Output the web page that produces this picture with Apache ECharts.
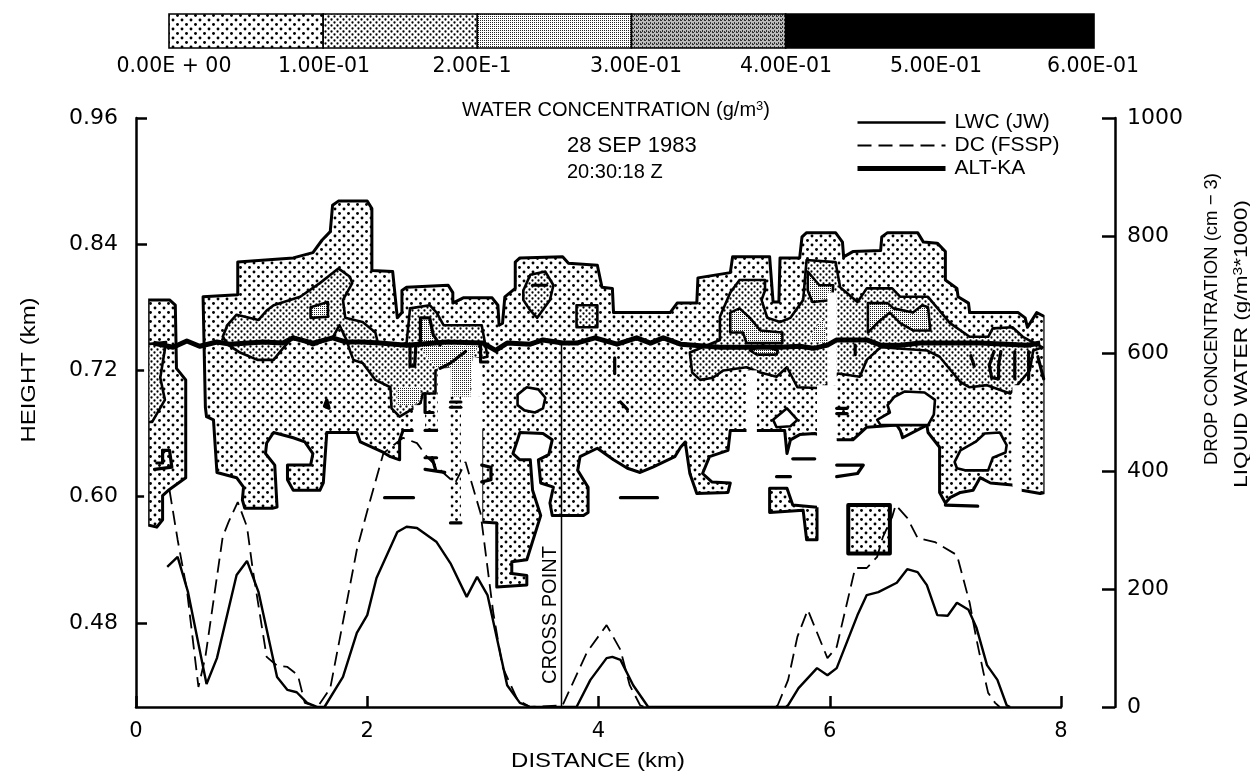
<!DOCTYPE html>
<html><head><meta charset="utf-8">
<style>html,body{margin:0;padding:0;background:#fff}#c{width:1250px;height:773px}</style>
<script src="https://cdn.jsdelivr.net/npm/echarts@6/dist/echarts.min.js"></script>
</head><body><div id="c"></div>
<script>
// ---------- values ----------
var lwcSeries=[[.27,238],[.36,255],[.45,195],[.61,39],[.70,83],[.87,224],[.96,248],[1.06,195],[1.22,51],[1.31,29],[1.39,25],[1.48,7],[1.57,0],[1.63,0],[1.79,51],[1.91,126],[2.00,156],[2.08,219],[2.26,297],[2.34,306],[2.43,304],[2.60,280],[2.72,244],[2.86,187],[2.95,221],[3.04,190],[3.21,37],[3.32,7],[3.41,0],[3.81,0],[3.93,46],[4.07,83],[4.12,85],[4.19,80],[4.30,37],[4.43,0],[5.62,0],[5.64,3],[5.73,32],[5.89,66],[5.98,54],[6.06,66],[6.24,156],[6.32,190],[6.42,195],[6.58,211],[6.67,234],[6.76,229],[6.84,207],[6.93,156],[7.02,155],[7.10,177],[7.20,165],[7.27,134],[7.36,71],[7.45,46],[7.53,3],[7.56,0]];
var dcSeries=[[.29,368],[.36,284],[.44,199],[.54,34],[.60,85],[.75,289],[.80,314],[.88,348],[.96,306],[1.01,233],[1.13,85],[1.22,70],[1.31,68],[1.40,54],[1.46,7],[1.57,0],[1.68,32],[1.91,267],[2.01,340],[2.14,431],[2.31,457],[2.43,448],[2.52,424],[2.65,399],[2.76,380],[2.85,416],[2.98,329],[3.09,160],[3.17,68],[3.30,12],[3.41,0],[3.69,3],[3.90,93],[4.07,139],[4.19,97],[4.27,37],[4.36,3],[4.40,0],[5.53,0],[5.55,3],[5.64,46],[5.72,119],[5.81,165],[5.87,136],[5.98,83],[6.06,102],[6.22,236],[6.32,236],[6.41,255],[6.46,289],[6.54,323],[6.57,343],[6.67,321],[6.76,287],[6.91,280],[7.10,258],[7.21,177],[7.27,114],[7.33,58],[7.37,24],[7.43,7],[7.47,0]];
var altSeries=[[.15,.746],[.32,.742],[.44,.748],[.55,.743],[.70,.747],[.81,.745],[1.10,.747],[1.27,.746],[1.36,.751],[1.53,.746],[1.70,.751],[1.82,.747],[1.96,.747],[2.11,.746],[2.34,.744],[2.69,.747],[3.00,.746],[3.11,.739],[3.21,.746],[3.41,.745],[3.52,.749],[3.69,.746],[3.81,.746],[3.97,.751],[4.16,.745],[4.33,.751],[4.45,.746],[4.56,.751],[4.71,.745],[5.05,.742],[5.28,.742],[5.57,.742],[5.74,.743],[5.86,.741],[5.98,.744],[6.06,.749],[6.32,.749],[6.44,.744],[6.61,.744],[6.78,.746],[7.30,.746],[7.71,.744],[7.82,.746]];
var crossPoint=[[3.68,.40],[3.68,.745]];

var heightTicks=[.48,.60,.72,.84,.96];
var scaleEdges=[0,.1,.2,.3,.4,.6];
var scaleLabels=['0.00E + 00','1.00E-01','2.00E-1','3.00E-01','4.00E-01','5.00E-01','6.00E-01'];
var legendNames=['LWC (JW)','DC (FSSP)','ALT-KA'];

// water concentration contours: [distance km, height km]
var columnWest=[[.105,.787],[.29,.787],[.34,.782],[.35,.722],[.43,.711],[.43,.618],[.28,.606],[.23,.601],[.23,.578],[.18,.571],[.105,.573]];
var mainBody=[[.58,.790],[.88,.792],[.88,.823],[1.36,.827],[1.53,.832],[1.61,.844],[1.68,.852],[1.70,.877],[1.75,.881],[2.00,.881],[2.04,.874],[2.04,.815],[2.22,.814],[2.26,.770],[2.30,.775],[2.30,.796],[2.34,.799],[2.70,.801],[2.74,.794],[2.74,.784],[2.83,.789],[3.08,.789],[3.13,.782],[3.14,.763],[3.17,.765],[3.19,.790],[3.28,.798],[3.28,.823],[3.32,.827],[3.69,.828],[3.74,.822],[3.99,.820],[4.03,.799],[4.12,.798],[4.13,.775],[4.62,.775],[4.68,.784],[4.85,.784],[4.86,.808],[5.14,.813],[5.16,.828],[5.48,.828],[5.51,.785],[5.56,.785],[5.57,.827],[5.74,.827],[5.76,.847],[5.80,.851],[6.05,.851],[6.11,.842],[6.12,.828],[6.20,.833],[6.44,.834],[6.45,.847],[6.50,.851],[6.76,.851],[6.81,.842],[6.93,.841],[7.00,.833],[7.00,.806],[7.10,.798],[7.11,.790],[7.20,.784],[7.21,.775],[7.63,.775],[7.69,.770],[7.71,.761],[7.79,.775],[7.86,.771],[7.86,.604],[7.82,.603],[7.66,.606],[7.58,.611],[7.39,.613],[7.30,.618],[7.24,.606],[7.13,.604],[7.04,.599],[7.00,.594],[6.95,.604],[6.95,.647],[6.85,.661],[6.84,.668],[6.63,.656],[6.61,.663],[6.58,.668],[6.32,.666],[6.20,.654],[6.07,.654],[5.87,.660],[5.74,.659],[5.66,.654],[5.63,.641],[5.61,.663],[5.37,.663],[5.28,.663],[5.14,.663],[5.12,.644],[4.96,.638],[4.90,.622],[4.98,.614],[5.14,.613],[5.12,.604],[4.85,.603],[4.79,.622],[4.75,.652],[4.71,.647],[4.66,.638],[4.47,.628],[4.36,.623],[4.25,.627],[4.13,.635],[3.99,.646],[3.84,.638],[3.82,.625],[3.91,.609],[3.91,.585],[3.87,.582],[3.60,.582],[3.58,.594],[3.61,.609],[3.50,.613],[3.48,.635],[3.57,.640],[3.60,.654],[3.52,.660],[3.32,.661],[3.30,.654],[3.26,.641],[3.32,.635],[3.41,.635],[3.43,.606],[3.50,.582],[3.38,.540],[3.25,.538],[3.25,.527],[3.38,.525],[3.38,.516],[3.12,.514],[3.12,.575],[2.99,.576],[2.99,.663],[2.31,.663],[2.28,.654],[2.28,.635],[2.20,.638],[2.14,.642],[1.94,.652],[1.91,.661],[1.65,.661],[1.62,.613],[1.59,.606],[1.36,.606],[1.31,.616],[1.31,.630],[1.51,.630],[1.53,.641],[1.46,.652],[1.36,.656],[1.19,.661],[1.13,.651],[1.12,.641],[1.20,.630],[1.22,.590],[1.18,.589],[.94,.589],[.92,.597],[.93,.609],[.87,.618],[.70,.623],[.67,.673],[.61,.676],[.60,.685]];
var fragmentEast=[[5.48,.608],[5.63,.608],[5.68,.592],[5.89,.590],[5.89,.559],[5.80,.559],[5.77,.587],[5.48,.585]];
var boxEast=[[6.16,.592],[6.52,.592],[6.52,.546],[6.16,.546]];

var level2West=[[.105,.745],[.26,.747],[.21,.713],[.25,.692],[.14,.671],[.105,.671]];
var level2Left=[[.75,.752],[.79,.763],[.87,.773],[1.06,.768],[1.13,.777],[1.19,.782],[1.42,.790],[1.59,.803],[1.75,.817],[1.85,.809],[1.87,.803],[1.79,.787],[1.81,.770],[1.96,.766],[2.07,.756],[2.09,.747],[2.26,.744],[2.34,.746],[2.37,.779],[2.54,.782],[2.60,.775],[2.66,.763],[2.99,.763],[3.04,.733],[2.89,.730],[2.59,.720],[2.59,.698],[2.48,.698],[2.46,.689],[2.40,.684],[2.28,.676],[2.21,.684],[2.20,.704],[2.07,.711],[1.96,.727],[1.88,.730],[1.85,.739],[1.82,.749],[1.76,.763],[1.70,.751],[1.53,.744],[1.36,.752],[1.27,.741],[1.19,.730],[1.05,.730],[.90,.737],[.80,.744]];
var level2Drop=[[3.35,.796],[3.41,.811],[3.54,.814],[3.61,.801],[3.58,.787],[3.47,.770],[3.41,.777],[3.35,.787]];
var level2Square=[[3.81,.782],[3.99,.782],[3.99,.761],[3.81,.761]];
var level2Right=[[4.79,.737],[5.05,.749],[5.05,.771],[5.14,.794],[5.22,.806],[5.44,.806],[5.44,.796],[5.41,.787],[5.46,.770],[5.57,.766],[5.66,.770],[5.77,.787],[5.79,.813],[5.80,.825],[6.05,.823],[6.09,.799],[6.24,.785],[6.32,.798],[6.54,.798],[6.61,.790],[6.85,.790],[7.04,.765],[7.21,.752],[7.37,.752],[7.41,.760],[7.58,.761],[7.67,.752],[7.84,.742],[7.76,.739],[7.73,.720],[7.56,.698],[7.36,.706],[7.21,.704],[7.13,.709],[6.95,.733],[6.84,.739],[6.44,.742],[6.32,.730],[6.26,.714],[6.07,.717],[5.94,.703],[5.72,.704],[5.63,.723],[5.54,.714],[5.40,.718],[5.28,.723],[5.08,.720],[4.99,.713],[4.88,.711],[4.81,.718]];

var level3A=[[2.46,.770],[2.54,.770],[2.57,.754],[2.63,.744],[2.89,.744],[2.96,.744],[2.91,.732],[2.89,.695],[2.72,.695],[2.72,.723],[2.59,.723],[2.50,.735],[2.46,.744]];
var level3B=[[2.26,.704],[2.46,.704],[2.46,.692],[2.40,.687],[2.26,.687]];
var level3Box=[[1.51,.780],[1.66,.785],[1.66,.771],[1.51,.770]];
var level3C1=[[6.33,.784],[6.50,.784],[6.55,.779],[6.72,.775],[6.80,.782],[6.85,.780],[6.87,.758],[6.72,.758],[6.61,.765],[6.52,.775],[6.41,.765],[6.33,.756]];
var level3C2=[[5.81,.814],[5.91,.801],[6.03,.801],[6.02,.787],[5.85,.785],[5.81,.796]];
var level3C3=[[5.83,.752],[5.94,.770],[5.98,.746],[5.85,.747]];
var level3C4=[[5.14,.775],[5.22,.779],[5.31,.770],[5.40,.758],[5.59,.756],[5.59,.746],[5.28,.746],[5.25,.756],[5.14,.756]];
var level3C5=[[5.31,.739],[5.42,.744],[5.55,.739],[5.54,.735],[5.37,.735]];

var holeA=[[3.30,.697],[3.38,.704],[3.48,.702],[3.54,.694],[3.52,.684],[3.45,.680],[3.36,.682],[3.30,.687]];
var holeB=[[5.51,.673],[5.63,.684],[5.72,.673],[5.66,.667],[5.54,.666]];
var holeC=[[6.41,.673],[6.52,.680],[6.50,.687],[6.56,.695],[6.65,.700],[6.82,.699],[6.91,.692],[6.90,.678],[6.85,.668],[6.44,.668]];
var holeD=[[7.08,.633],[7.13,.644],[7.26,.652],[7.34,.660],[7.47,.661],[7.53,.649],[7.52,.642],[7.41,.637],[7.37,.625],[7.17,.625],[7.10,.627]];

// data gaps: [x0, x1, h0, h1]
var dataGaps=[[.07,.105,.80,.56],[2.40,2.50,.687,.655],[2.61,2.72,.722,.55],[2.81,2.995,.695,.568],[2.91,2.995,.732,.695],[5.28,5.37,.720,.655],[5.98,6.06,.794,.706],[5.89,6.06,.706,.59],[7.58,7.66,.706,.595],[7.858,7.90,.78,.59]];
var dataColumns=[[2.72,2.81,.695,.575]];

var contourMarks=[
 [[.23,.644],[.29,.644],[.31,.628],[.16,.626]],[[.23,.644],[.23,.632],[.18,.632]],
 [[2.46,.744],[2.46,.770],[2.54,.770],[2.57,.754],[2.63,.744]],[[2.63,.722],[2.72,.727],[2.85,.738]],
 [[2.15,.599],[2.40,.599]],[[4.19,.599],[4.51,.599]],[[2.72,.575],[2.81,.575]],[[2.72,.690],[2.81,.690]],[[2.72,.685],[2.81,.685]],
 [[2.50,.626],[2.67,.623]],[[2.56,.637],[2.59,.626]],[[2.50,.637],[2.60,.637]],[[2.50,.663],[2.60,.663]],
 [[4.14,.732],[4.14,.717]],[[4.19,.690],[4.25,.683]],[[3.43,.801],[3.55,.801]],
 [[5.54,.619],[5.66,.619]],[[5.68,.636],[5.87,.636]],[[6.06,.684],[6.15,.684]],[[6.06,.679],[6.15,.679]],
 [[6.06,.630],[6.29,.630],[6.24,.622],[6.06,.619]],[[7.00,.592],[7.28,.591]],
 [[7.22,.734],[7.25,.724]],[[7.60,.738],[7.60,.712]],[[7.42,.738],[7.38,.725],[7.40,.713],[7.46,.712],[7.46,.725],[7.48,.738]],
 [[7.72,.738],[7.72,.712]],[[7.80,.733],[7.85,.712]],[[6.22,.744],[6.22,.735]],
 [[2.37,.743],[2.37,.724],[2.41,.724],[2.42,.743]],[[2.98,.744],[2.98,.728],[3.04,.728]],
 [[2.99,.630],[3.07,.628],[3.07,.616],[2.99,.614]],[[1.63,.686],[1.65,.692],[1.67,.684],[1.63,.686]],
 [[2.50,.698],[2.50,.680],[2.57,.680]]
];

// ---------- fill patterns ----------
function tile(w,h,bg,draw){var c=document.createElement('canvas');c.width=w;c.height=h;var g=c.getContext('2d');g.fillStyle=bg;g.fillRect(0,0,w,h);g.fillStyle='#000';draw(g);return {image:c,repeat:'repeat'};}
function dot(g,x,y,r){g.beginPath();g.arc(x,y,r,0,7);g.fill();}
var fill1=tile(9,9,'#fff',function(g){dot(g,2,2,1.45);dot(g,6.5,6.5,1.45);});
var fill2=tile(6,6,'#fff',function(g){dot(g,1.5,1.5,1.15);dot(g,4.5,4.5,1.15);});
var fill3=tile(2,2,'#fff',function(g){g.fillStyle='#222';g.fillRect(0,0,1,1);});
var fill4=tile(4,4,'#bbb',function(g){g.fillStyle='#333';g.fillRect(0,0,2,1);g.fillRect(2,2,1,2);g.fillRect(0,3,1,1);});
var scaleFills=[fill1,fill2,fill3,fill4,'#000'];

// ---------- layers, drawn in order ----------
var layers=[];
function poly(p,f,w){layers.push({p:p,f:f,w:w});}
function rect(r,f){layers.push({p:[[r[0],r[2]],[r[1],r[2]],[r[1],r[3]],[r[0],r[3]]],f:f,w:0});}
poly(columnWest,fill1,3);poly(mainBody,fill1,3);poly(fragmentEast,fill1,3);poly(boxEast,fill1,4);
[level2West,level2Left,level2Drop,level2Square,level2Right].forEach(function(p){poly(p,fill2,2.6);});
poly(level3A,fill3,0);poly(level3B,fill3,0);poly(level3C3,fill3,0);
[level3Box,level3C1,level3C2,level3C4,level3C5].forEach(function(p){poly(p,fill3,2.6);});
[holeA,holeB,holeC,holeD].forEach(function(p){poly(p,'#fff',2.6);});
dataGaps.forEach(function(r){rect(r,'#fff');});
dataColumns.forEach(function(r){rect(r,fill1);});
contourMarks.forEach(function(p){layers.push({p:p,line:true,w:3.2});});

var F='"Liberation Sans",Arial,sans-serif', W='"DejaVu Sans",sans-serif';
var scaleCenters=[174,324,472,636,786,936,1093];
var graphics=scaleLabels.map(function(t,i){return {type:'text',x:scaleCenters[i],y:67,style:{text:t,font:'20.5px '+W,fill:'#000',align:'center',verticalAlign:'middle'}};});
var supRich={sup:{font:'13px '+F,fill:'#000',verticalAlign:'top',padding:[0,0,7,0]}};
function txt(o){return {type:'text',x:o.x,y:o.y,rotation:o.rot||0,scaleX:o.sx||1,style:{text:o.t,font:o.s+'px '+F,fill:'#000',align:o.a||'left',verticalAlign:'middle',rich:supRich}};}
graphics.push(txt({x:462,y:110,t:'WATER CONCENTRATION (g/m{sup|3})',s:20}));
graphics.push(txt({x:567,y:146,t:'28 SEP 1983',s:22}));
graphics.push(txt({x:567,y:172,t:'20:30:18 Z',s:20}));
graphics.push(txt({x:550,y:615,t:'CROSS POINT',s:20,a:'center',rot:Math.PI/2}));
graphics.push(txt({x:1212,y:319,t:'DROP CONCENTRATION (cm \u2212 3)',s:18.5,a:'center',rot:Math.PI/2}));
graphics.push(txt({x:1242,y:344,t:'LIQUID WATER (g/m{sup|3}*1000)',s:19,sx:1.19,a:'center',rot:Math.PI/2}));
graphics.push(txt({x:29,y:370,t:'HEIGHT (km)',s:20.5,sx:1.17,a:'center',rot:Math.PI/2}));
graphics.push(txt({x:598,y:761,t:'DISTANCE (km)',s:21,sx:1.14,a:'center'}));

var axisLine={show:true,lineStyle:{color:'#000',width:2.5}};
var chart=echarts.init(document.getElementById('c'),null,{renderer:'canvas'});
chart.setOption({
 animation:false,backgroundColor:'#fff',
 grid:[{left:136,top:118,width:925,height:589},{left:169,top:14,width:925,height:34}],
 xAxis:[
  {gridIndex:0,type:'value',min:0,max:8,interval:2,position:'bottom',axisLine:axisLine,
   axisTick:{show:true,inside:true,length:11,lineStyle:{color:'#000',width:2.5}},
   axisLabel:{color:'#000',fontFamily:W,fontSize:21,margin:14},splitLine:{show:false}},
  {gridIndex:1,type:'value',min:0,max:.6,show:false}
 ],
 yAxis:[
  {gridIndex:0,type:'value',min:.40,max:.96,position:'left',axisLine:axisLine,
   axisTick:{show:true,inside:true,length:11,customValues:heightTicks,lineStyle:{color:'#000',width:2.5}},
   axisLabel:{color:'#000',fontFamily:W,fontSize:22,margin:18,customValues:heightTicks,formatter:function(v){return v.toFixed(2);}},splitLine:{show:false}},
  {gridIndex:0,type:'value',min:0,max:1000,interval:200,position:'right',offset:54,axisLine:axisLine,
   axisTick:{show:true,inside:true,length:13,lineStyle:{color:'#000',width:2.5}},
   axisLabel:{color:'#000',fontFamily:W,fontSize:22,margin:12,formatter:function(v){return String(v);}},splitLine:{show:false}},
  {gridIndex:1,type:'value',min:0,max:1,show:false}
 ],
 legend:{show:true,orient:'vertical',left:850,top:107,itemWidth:88,itemHeight:16,itemGap:2,
  itemStyle:{opacity:0,color:'transparent',borderWidth:0},lineStyle:{width:'inherit',type:'inherit',color:'#000',opacity:1},
  textStyle:{color:'#000',fontFamily:F,fontSize:21,padding:[0,0,0,4]},data:legendNames},
 graphic:graphics,
 series:[
  {type:'custom',name:'concentration',coordinateSystem:'cartesian2d',xAxisIndex:0,yAxisIndex:0,silent:true,clip:false,z:1,
   data:layers.map(function(l,i){return [0,.5,i];}),encode:{x:0,y:1},
   renderItem:function(params,api){
     var l=layers[api.value(2)];var pts=l.p.map(function(q){return api.coord(q);});
     if(l.line)return {type:'polyline',shape:{points:pts},style:{fill:null,stroke:'#000',lineWidth:l.w,lineJoin:'round',lineCap:'round'}};
     return {type:'polygon',shape:{points:pts},style:{fill:l.f,stroke:l.w?'#000':null,lineWidth:l.w,lineJoin:'round'}};
   }},
  {type:'custom',name:'scale',coordinateSystem:'cartesian2d',xAxisIndex:1,yAxisIndex:2,silent:true,z:1,
   data:scaleFills.map(function(f,i){return [scaleEdges[i],scaleEdges[i+1],i];}),encode:{x:[0,1]},
   renderItem:function(params,api){
     var a=api.coord([api.value(0),0]),b=api.coord([api.value(1),1]);
     return {type:'rect',shape:{x:a[0],y:b[1],width:b[0]-a[0],height:a[1]-b[1]},style:{fill:scaleFills[api.value(2)],stroke:'#000',lineWidth:1.6}};
   }},
  {type:'line',name:'cross',xAxisIndex:0,yAxisIndex:0,data:crossPoint,symbol:'none',silent:true,z:3,lineStyle:{color:'#000',width:1.5}},
  {type:'line',name:legendNames[0],xAxisIndex:0,yAxisIndex:1,data:lwcSeries,symbol:'none',silent:true,z:4,itemStyle:{color:'#000'},lineStyle:{color:'#000',width:2.4}},
  {type:'line',name:legendNames[1],xAxisIndex:0,yAxisIndex:1,data:dcSeries,symbol:'none',silent:true,z:4,itemStyle:{color:'#000'},lineStyle:{color:'#000',width:1.8,type:[14,7]}},
  {type:'line',name:legendNames[2],xAxisIndex:0,yAxisIndex:0,data:altSeries,symbol:'none',silent:true,z:5,itemStyle:{color:'#000'},lineStyle:{color:'#000',width:5,join:'round'}}
 ]
});
</script></body></html>
